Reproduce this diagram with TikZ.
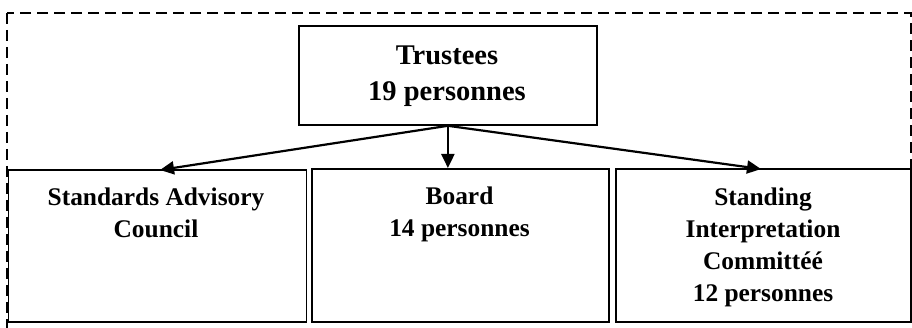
\documentclass[tikz,border=0pt]{standalone}
\usepackage{fontspec}
\setmainfont{Liberation Serif}
\usetikzlibrary{arrows.meta}

\tikzset{
  unitbox/.style={draw=black, line width=1.8pt, rectangle, inner sep=0pt, anchor=north west},
  boxtext/.style={inner sep=0pt, anchor=base, font=\bfseries\fontsize{25.4}{32}\selectfont},
  toptext/.style={inner sep=0pt, anchor=base, font=\bfseries\fontsize{28.5}{36}\selectfont},
  link/.style={draw=black, line width=2.2pt, -{Triangle[length=14pt, width=13pt]}},
  frame/.style={draw=black, line width=2.5pt, dash pattern=on 11pt off 6pt}
}
\newcommand{\lines}[1]{\begin{tabular}[t]{@{}c@{}}#1\end{tabular}}

\begin{document}
\begin{tikzpicture}[x=1pt, y=-1pt]
  \useasboundingbox (0,0) rectangle (912,328);
  \clip (0,0) rectangle (912,328);

  % dashed outer frame (runs past the lower edge)
  \draw[frame] (7,13) rectangle (911,345);

  % boxes
  \node[unitbox, minimum width=298pt, minimum height=99pt] (trustees) at (298,25) {};
  \node[unitbox, minimum width=298pt, minimum height=152pt] (sac) at (7.5,169) {};
  \node[unitbox, minimum width=297pt, minimum height=153pt] (board) at (311,168) {};
  \node[unitbox, minimum width=295pt, minimum height=153pt] (sic) at (615,168) {};

  % texts
  \node[toptext] (ttext) at (447,65) {\lines{Trustees\\19 personnes}};
  \node[boxtext] (sactext) at (156,206) {\lines{Standards Advisory\\Council}};
  \node[boxtext] (btext) at (459.5,205) {\lines{Board\\14 personnes}};
  \node[boxtext] (sictext) at (763,206) {\lines{Standing\\Interpretation\\Committéé\\12 personnes}};

  % connectors
  \coordinate (hub) at (trustees.south);
  \draw[link] (hub) -- (160,170);
  \draw[link] (hub) -- (hub |- board.north);
  \draw[link] (hub) -- (761,169);
\end{tikzpicture}
\end{document}
